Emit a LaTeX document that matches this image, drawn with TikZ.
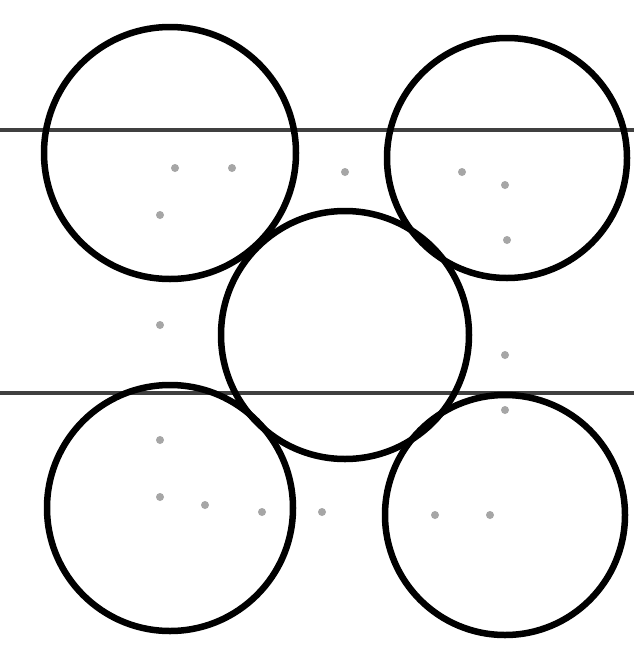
\documentclass[tikz,border=0pt]{standalone}
\begin{document}
\begin{tikzpicture}[x=1pt,y=-1pt,
  ball/.style={draw=black,line width=6.5pt,circle,inner sep=0pt},
  rule/.style={draw=black!75,line width=3.5pt},
  speck/.style={fill=black!35,circle,inner sep=0pt,minimum size=8pt}]
\useasboundingbox (0,0) rectangle (634,648);
\fill[white] (0,0) rectangle (634,648);
% horizontal lines
\coordinate (t1) at (0,130); \coordinate (t2) at (634,130);
\coordinate (b1) at (0,393); \coordinate (b2) at (634,393);
\draw[rule] (t1) -- (t2);
\draw[rule] (b1) -- (b2);
% circles
\node[ball,minimum size=252pt] (tl) at (170,153) {};
\node[ball,minimum size=240pt] (tr) at (507,158) {};
\node[ball,minimum size=248pt] (c) at (345,335) {};
\node[ball,minimum size=246pt] (bl) at (170,508) {};
\node[ball,minimum size=240pt] (br) at (505,515) {};
% faint dots
\foreach \p [count=\i] in {(175,168),(232,168),(160,215),(345,172),(462,172),(505,185),(507,240),
  (160,325),(160,440),(160,497),(205,505),(262,512),(322,512),(435,515),(490,515),(505,355),(505,410)}
  \node[speck] (d\i) at \p {};
\end{tikzpicture}
\end{document}
